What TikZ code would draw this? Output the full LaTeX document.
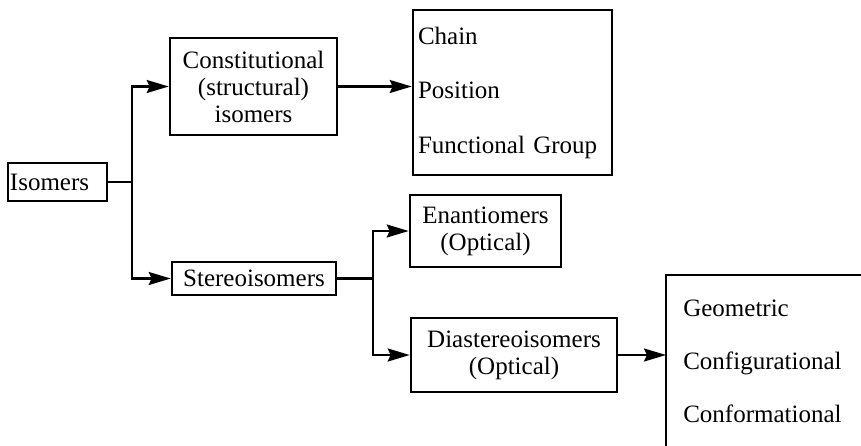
\documentclass[tikz,border=0pt]{standalone}
\usepackage{fontspec}
\setmainfont{Liberation Serif}
\usetikzlibrary{arrows.meta,positioning,calc}

\begin{document}
\begin{tikzpicture}[
    x=0.5pt, y=-0.5pt,
    >={Stealth[length=11pt,width=6.5pt,inset=1.5pt]},
    box/.style={draw, line width=1.3pt, inner sep=2.5pt, font=\fontsize{12.5}{13.5}\selectfont, align=center},
    list/.style={box, align=left},
    line width=1.1pt]
  \useasboundingbox (0,0) rectangle (861,445);
  \clip (0,0) rectangle (861,445);
  % boxes
  \node[box, align=left, text width=47.5pt, inner xsep=1pt, minimum height=19pt] (iso) at (57.5,182) {Isomers};
  \node[box, minimum width=83.5pt, minimum height=48.5pt] (con) at (253.5,86.5) {Constitutional\\(structural)\\isomers};
  \node[list, text width=94.5pt, minimum height=82.5pt] (chain) at (512.5,92.5) {Chain\\[13.75pt]Position\\[13.75pt]Functional Group};
  \node[box, minimum width=82pt, minimum height=16.5pt] (ste) at (254,278.5) {Stereoisomers};
  \node[box, minimum width=75.5pt, minimum height=36pt] (ena) at (485.5,231) {Enantiomers\\(Optical)};
  \node[box, minimum width=103pt, minimum height=37pt] (dia) at (514,355) {Diastereoisomers\\(Optical)};
  \node[list, draw=none, text width=100pt, inner xsep=8pt, minimum height=85pt, anchor=north west] (geo) at (666,275) {Geometric\\[13pt]Configurational\\[13pt]Conformational};
  \draw[line width=1.3pt] ($(geo.north west)+(300,0)$) -- (geo.north west) -- ++(0,300);
  % connectors
  \coordinate (isoj) at ($(iso.east)+(24,0)$);
  \draw (iso.east) -- (isoj);
  \draw[->] (isoj) |- (con.west);
  \draw[->] (isoj) |- (ste.west);
  \draw[->] (con.east) -- (con.east -| chain.west);
  \coordinate (stej) at ($(ste.east)+(36,0)$);
  \draw (ste.east) -- (stej);
  \draw[->] (stej) |- (ena.west);
  \draw[->] (stej) |- (dia.west);
  \draw[->] (dia.east) -- (dia.east -| geo.west);
\end{tikzpicture}
\end{document}
